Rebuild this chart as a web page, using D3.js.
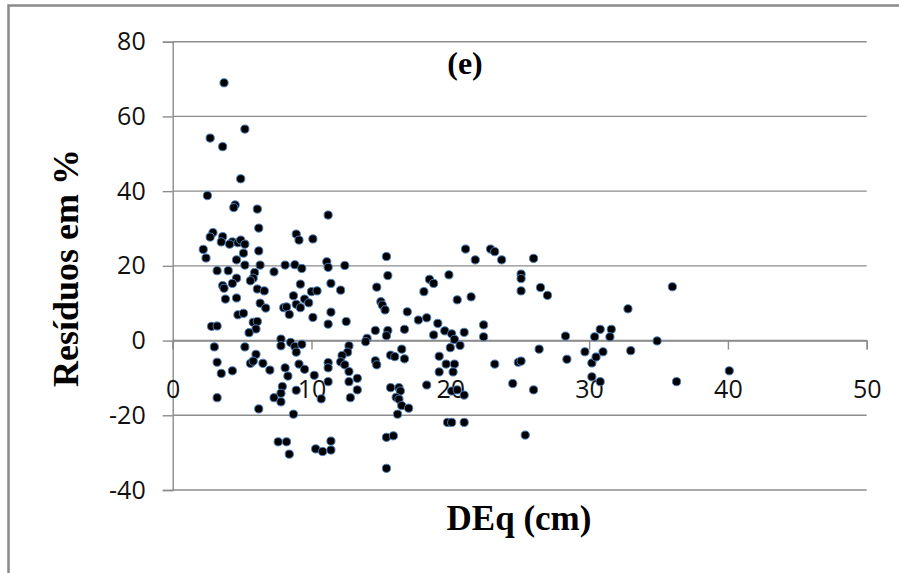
<!DOCTYPE html>
<html>
<head>
<meta charset="utf-8">
<script src="https://cdn.jsdelivr.net/npm/d3@7"></script>
<style>
  html, body { margin: 0; padding: 0; background: #fff; }
  svg { display: block; }
</style>
</head>
<body>
<svg id="chart" width="899" height="573"></svg>
<script>
// ---- data ----
const deq = [
  3.7,5.2,2.7,3.6,4.9,2.5,4.5,4.4,6.1,6.2,
  2.9,2.7,3.6,3.5,4.3,4.1,4.7,4.9,5.2,5.1,
  4.6,2.2,2.4,6.2,8.9,9.1,10.1,5.2,6.3,8.1,
  8.8,9.3,3.2,4.0,5.9,7.3,5.8,5.6,4.6,4.3,
  3.6,3.7,6.1,6.6,9.2,3.8,4.6,8.7,10.0,10.4,
  6.3,6.7,8.0,8.2,8.4,8.9,9.2,9.5,9.8,10.1,
  4.7,5.1,2.8,3.2,5.8,6.1,6.0,5.5,7.8,7.8,
  8.5,8.8,9.3,8.9,3.0,5.2,6.0,5.6,5.8,6.5,
  7.0,3.2,3.5,4.3,8.1,8.3,9.1,9.5,10.2,7.9,
  7.8,7.3,7.8,8.9,3.2,6.2,8.7,7.6,8.2,8.4,
  11.2,15.4,11.1,11.2,12.4,15.5,19.9,11.4,12.1,11.4,
  11.2,12.5,14.7,15.0,15.1,15.3,16.9,18.1,18.5,18.8,
  17.7,18.3,19.1,19.6,18.8,16.7,14.6,15.5,15.4,14.0,
  13.9,12.7,12.6,12.2,12.1,12.4,11.2,11.2,11.2,12.7,
  12.7,13.3,13.3,12.8,10.7,14.6,14.7,15.7,16.0,16.5,
  16.7,19.2,19.7,19.2,18.3,15.7,16.3,16.4,16.1,16.3,
  16.5,17.0,16.2,19.8,10.3,10.8,11.4,11.4,15.4,15.9,
  15.4,21.1,21.8,22.9,23.2,23.7,26.0,25.1,25.1,25.1,
  26.5,27.0,20.5,21.5,22.4,22.4,20.1,20.3,21.0,20.0,
  20.7,28.3,26.4,29.7,30.4,20.3,20.2,23.2,24.9,25.1,
  28.4,30.2,30.2,24.5,26.0,20.1,20.5,21.0,20.1,21.0,
  25.4,36.0,32.8,30.8,31.6,31.5,34.9,31.0,30.5,33.0,
  30.8,36.3,40.1
];
const residuos = [
  69.0,56.6,54.2,51.9,43.3,38.8,36.3,35.6,35.2,30.1,
  28.9,27.7,27.8,26.4,26.4,25.8,26.2,26.9,25.8,23.4,
  21.6,24.4,22.1,24.0,28.5,26.9,27.2,20.2,20.2,20.2,
  20.3,19.3,18.7,18.7,18.2,18.4,16.7,16.0,16.7,15.3,
  14.7,14.0,13.8,13.3,15.1,11.1,11.4,12.0,13.1,13.3,
  10.0,8.7,8.8,9.0,7.0,9.7,8.8,11.1,10.1,6.2,
  6.9,7.3,3.8,3.9,4.9,5.1,3.1,2.1,0.4,-1.4,
  -0.5,-1.6,-1.0,-3.1,-1.7,-1.7,-3.7,-6.1,-5.5,-6.1,
  -7.9,-5.8,-8.8,-8.1,-7.3,-9.5,-6.3,-7.7,-9.3,-12.3,
  -14.1,-15.3,-16.4,-13.3,-15.3,-18.3,-19.7,-27.1,-27.1,-30.4,
  33.6,22.5,21.1,19.6,20.1,17.4,17.6,15.3,13.5,7.6,
  4.4,5.1,14.3,10.4,9.5,8.2,7.7,13.1,16.4,15.3,
  5.5,6.1,4.6,2.6,1.5,3.0,2.7,2.7,1.3,0.6,
  -0.3,-1.4,-3.1,-4.0,-5.7,-6.5,-5.9,-7.3,-11.0,-8.3,
  -11.0,-10.1,-13.2,-15.3,-15.6,-5.4,-6.5,-3.9,-4.3,-2.3,
  -4.9,-4.2,-6.3,-8.4,-11.9,-12.6,-12.6,-13.5,-15.2,-15.7,
  -17.4,-18.1,-19.7,-21.9,-29.0,-29.7,-29.3,-26.9,-25.9,-25.5,
  -34.2,24.5,21.6,24.5,23.8,21.6,22.0,17.8,16.6,13.3,
  14.2,12.1,10.9,11.7,4.2,1.0,1.8,0.3,2.2,-1.9,
  -1.3,1.2,-2.3,-3.0,1.0,-6.3,-8.4,-6.3,-5.8,-5.5,
  -5.0,-6.0,-9.7,-11.5,-13.2,-13.5,-13.2,-14.6,-21.9,-21.9,
  -25.3,14.4,8.5,3.0,3.0,1.0,-0.1,-3.0,-4.4,-2.7,
  -11.0,-11.0,-8.1
];
const xTicks = [0, 10, 20, 30, 40, 50];
const yTicks = [-40, -20, 0, 20, 40, 60, 80];
const xTitle = "DEq (cm)";
const yTitle = "Resíduos em %";
const panelLabel = "(e)";

// ---- layout ----
const svg = d3.select("#chart");
const plotL = 172.7, plotR = 866.7, plotT = 41.7, plotB = 490;
const x = d3.scaleLinear().domain([0, 50]).range([plotL, plotR]);
const y = d3.scaleLinear().domain([-40, 80]).range([plotB, plotT]);
const gridColor = "#8c8c8c";
const tickFont = "'Open Sans', 'DejaVu Sans', sans-serif";
const titleFont = "'Liberation Serif', 'Times New Roman', serif";
const fmt = d => String(d);

// outer frame (only top and left edges visible)
svg.append("rect")
  .attr("x", 8.5).attr("y", 5.5)
  .attr("width", 1200).attr("height", 1200)
  .attr("fill", "none").attr("stroke", "#8a8a8a").attr("stroke-width", 2.5);

// horizontal gridlines
svg.append("g").selectAll("line").data(yTicks).join("line")
  .attr("x1", plotL).attr("x2", plotR)
  .attr("y1", d => y(d)).attr("y2", d => y(d))
  .attr("stroke", gridColor).attr("stroke-width", 1.4);

// y axis
const yAxis = svg.append("g")
  .attr("transform", `translate(${plotL},0)`)
  .call(d3.axisLeft(y).tickValues(yTicks).tickSize(10).tickSizeOuter(10).tickPadding(17).tickFormat(fmt));
yAxis.select(".domain").attr("stroke", gridColor).attr("stroke-width", 1.4);
yAxis.selectAll(".tick line").attr("stroke", gridColor).attr("stroke-width", 1.4);
yAxis.selectAll(".tick text")
  .attr("font-family", tickFont).attr("font-size", 25).attr("fill", "#111");

// x axis through y = 0
const xAxis = svg.append("g")
  .attr("transform", `translate(0,${y(0)})`)
  .call(d3.axisBottom(x).tickValues(xTicks).tickSize(9).tickSizeOuter(9).tickPadding(31).tickFormat(fmt));
xAxis.select(".domain").attr("stroke", gridColor).attr("stroke-width", 1.4);
xAxis.selectAll(".tick line").attr("stroke", gridColor).attr("stroke-width", 1.4);
xAxis.selectAll(".tick text")
  .attr("font-family", tickFont).attr("font-size", 25).attr("fill", "#111");

// points
svg.append("g").selectAll("circle").data(deq.map((d, i) => [d, residuos[i]])).join("circle")
  .attr("cx", d => x(d[0]))
  .attr("cy", d => y(d[1]))
  .attr("r", 4.1)
  .attr("fill", "#000")
  .attr("stroke", "#4a7ebb")
  .attr("stroke-width", 1);

// titles
svg.append("text")
  .attr("x", 519).attr("y", 530)
  .attr("text-anchor", "middle")
  .attr("font-family", titleFont).attr("font-weight", "bold").attr("font-size", 35)
  .attr("fill", "#000")
  .text(xTitle);

svg.append("text")
  .attr("transform", "translate(78,268) rotate(-90)")
  .attr("text-anchor", "middle")
  .attr("font-family", titleFont).attr("font-weight", "bold").attr("font-size", 36)
  .attr("fill", "#000")
  .text(yTitle);

svg.append("text")
  .attr("x", 465).attr("y", 74)
  .attr("text-anchor", "middle")
  .attr("font-family", titleFont).attr("font-weight", "bold").attr("font-size", 32)
  .attr("fill", "#000")
  .text(panelLabel);
</script>
</body>
</html>
